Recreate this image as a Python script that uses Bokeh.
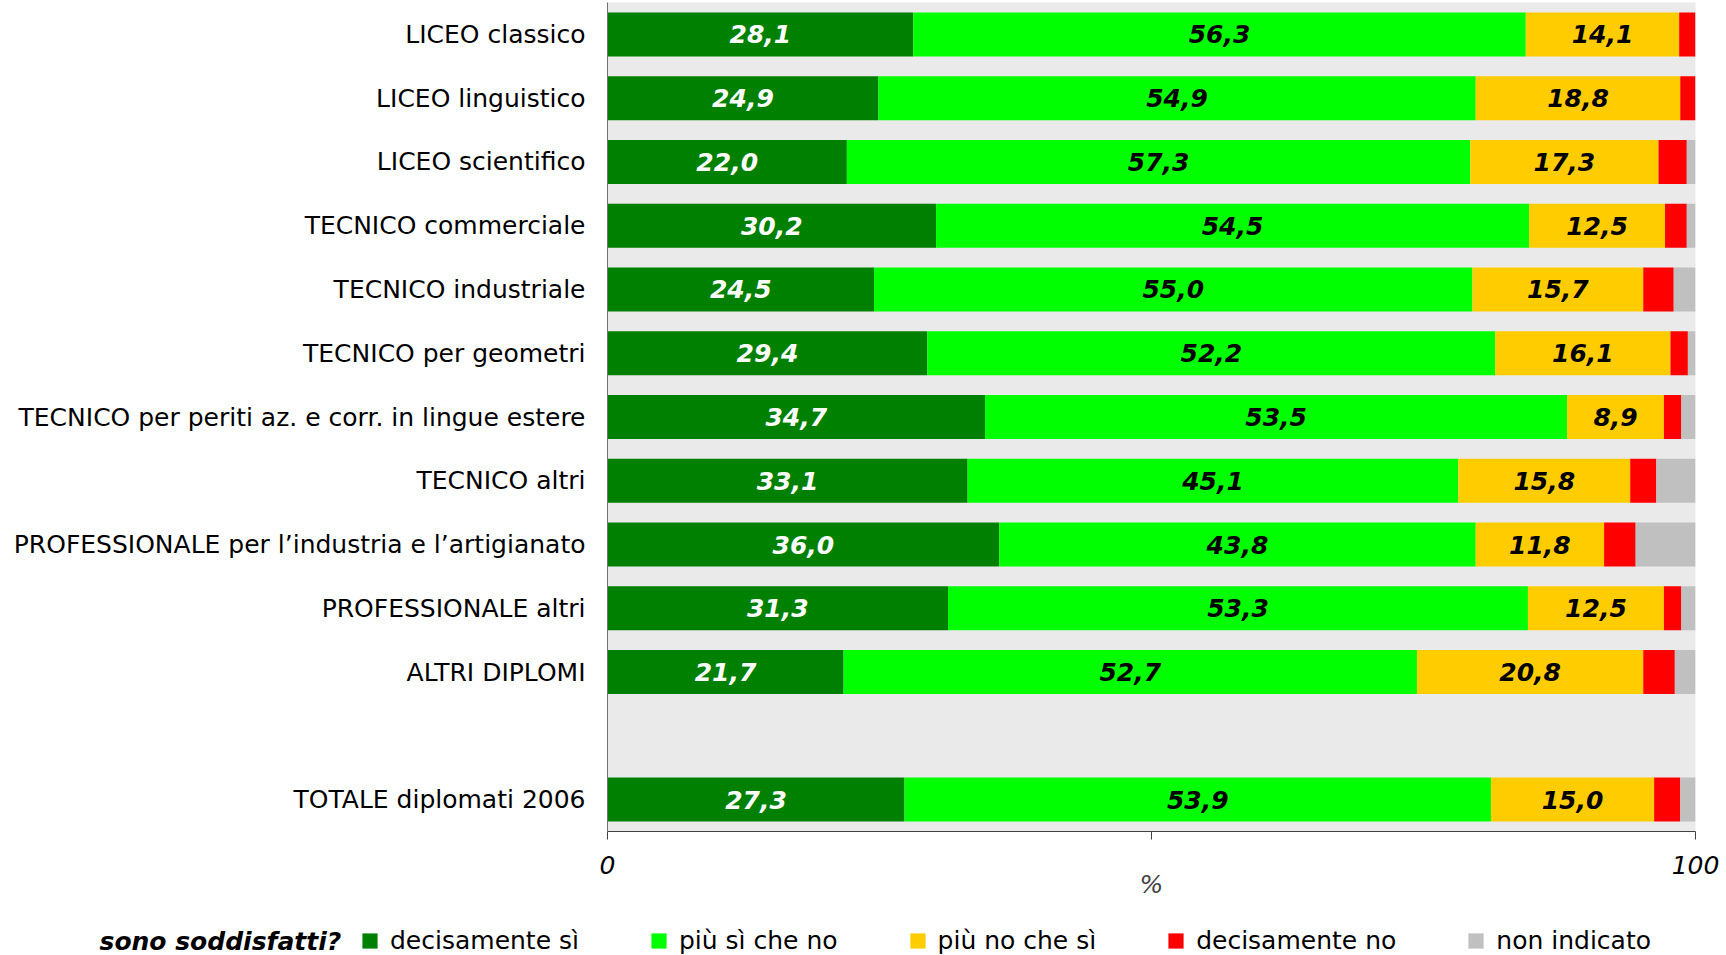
from bokeh.plotting import figure
from bokeh.layouts import column
from bokeh.models import (ColumnDataSource, FactorRange, Range1d, FixedTicker,
                          Legend, LegendItem, Label)
from bokeh.core.properties import value
from bokeh.embed import file_html
from bokeh.resources import INLINE

categories = ["LICEO classico", "LICEO linguistico", "LICEO scientifico",
              "TECNICO commerciale", "TECNICO industriale", "TECNICO per geometri",
              "TECNICO per periti az. e corr. in lingue estere", "TECNICO altri",
              "PROFESSIONALE per l\u2019industria e l\u2019artigianato",
              "PROFESSIONALE altri", "ALTRI DIPLOMI", "TOTALE diplomati 2006"]
spacer = " "

dec_si = [28.1, 24.9, 22.0, 30.2, 24.5, 29.4, 34.7, 33.1, 36.0, 31.3, 21.7, 27.3]
piu_si = [56.3, 54.9, 57.3, 54.5, 55.0, 52.2, 53.5, 45.1, 43.8, 53.3, 52.7, 53.9]
piu_no = [14.1, 18.8, 17.3, 12.5, 15.7, 16.1, 8.9, 15.8, 11.8, 12.5, 20.8, 15.0]
dec_no = [1.5, 1.4, 2.6, 2.0, 2.8, 1.6, 1.6, 2.4, 2.9, 1.6, 2.9, 2.4]
non_ind = [0.0, 0.0, 0.8, 0.8, 2.0, 0.7, 1.3, 3.6, 5.5, 1.3, 1.9, 1.4]

series_names = ["decisamente s\u00ec", "pi\u00f9 s\u00ec che no", "pi\u00f9 no che s\u00ec",
                "decisamente no", "non indicato"]
series_keys = ["dec_si", "piu_si", "piu_no", "dec_no", "non_ind"]
colors = ["#008000", "#00FF00", "#FFCC00", "#FF0000", "#C0C0C0"]
label_colors = ["white", "black", "black"]
legend_title = "sono soddisfatti?"
x_ticks = [0, 50, 100]
x_tick_labels = {0: "0", 50: "", 100: "100"}

FONT = "DejaVu Sans"
FS = "25px"

data = dict(cat=categories, dec_si=dec_si, piu_si=piu_si, piu_no=piu_no,
            dec_no=dec_no, non_ind=non_ind)
source = ColumnDataSource(data)

factors = list(reversed(categories[:-1]))
factors = [categories[-1], spacer] + factors

W = 1726
H_MAIN, H_LEG = 911, 44
p = figure(width=W, height=H_MAIN, y_range=FactorRange(factors=factors),
           x_range=Range1d(0, 100), output_backend="svg", toolbar_location=None,
           min_border_left=607, min_border_right=31, min_border_top=2,
           min_border_bottom=80)
p.background_fill_color = "#EAEAEA"
p.border_fill_color = "white"
p.outline_line_color = None
p.xgrid.visible = False
p.ygrid.visible = False
p.frame_align = False

renderers = p.hbar_stack(series_keys, y="cat", height=0.69, color=colors,
                         line_color=None, source=source)

# value labels (first three series)
cum = [0.0] * len(categories)
for k, key in enumerate(series_keys[:3]):
    vals = data[key]
    xc = [c + v / 2 for c, v in zip(cum, vals)]
    cum = [c + v for c, v in zip(cum, vals)]
    lsrc = ColumnDataSource(dict(x=xc, y=categories,
                                 t=[f"{v:.1f}".replace(".", ",") for v in vals]))
    p.text(x="x", y="y", text="t", source=lsrc, text_align="center",
           text_baseline="middle", text_font=value(FONT), text_font_size=FS,
           text_font_style="bold italic", text_color=label_colors[k])

# y axis
ya = p.yaxis[0]
ya.axis_line_color = "#707070"
ya.major_tick_line_color = None
ya.minor_tick_line_color = None
ya.major_tick_out = 0
ya.major_tick_in = 0
ya.major_label_standoff = 22
ya.major_label_text_font = FONT
ya.major_label_text_font_size = FS
ya.major_label_text_color = "black"

# x axis
xa = p.xaxis[0]
xa.ticker = FixedTicker(ticks=x_ticks)
xa.major_label_overrides = x_tick_labels
xa.axis_line_color = "#404040"
xa.major_tick_line_color = "#404040"
xa.major_tick_out = 8
xa.major_tick_in = 0
xa.minor_tick_line_color = None
xa.major_label_standoff = 16
xa.major_label_text_font = FONT
xa.major_label_text_font_size = FS
xa.major_label_text_font_style = "italic"
xa.major_label_text_color = "black"
xa.axis_label = "%"
xa.axis_label_text_font = FONT
xa.axis_label_text_font_size = FS
xa.axis_label_text_font_style = "italic"
xa.axis_label_standoff = -7

# legend strip: legend proxies draw the same stacked data, kept outside the visible x range
p2 = figure(width=W, height=H_LEG, output_backend="svg", toolbar_location=None,
            min_border=0, x_range=Range1d(-2, -1), y_range=FactorRange(factors=categories))
p2.frame_align = False
p2.axis.visible = False
p2.grid.visible = False
p2.outline_line_color = None
p2.background_fill_color = "white"
proxies = p2.hbar_stack(series_keys, y="cat", height=0.69, color=colors,
                        line_color=None, source=source)
items = [LegendItem(label=n, renderers=[r]) for n, r in zip(series_names, proxies)]
legend = Legend(items=items, orientation="horizontal", location=(360, 0),
                glyph_width=19, glyph_height=19, label_standoff=11, spacing=70,
                padding=0, margin=0, border_line_color=None,
                background_fill_alpha=0, label_text_font=FONT,
                label_text_font_size=FS, label_text_color="black")
p2.add_layout(legend, "center")
p2.add_layout(Label(x=99, y=14, x_units="screen", y_units="screen",
                    text=legend_title, text_font=FONT, text_font_size=FS,
                    text_font_style="bold italic", text_baseline="middle",
                    text_align="left", text_color="black"))

layout = column(p, p2, spacing=0)
open("out.html", "w").write(file_html(layout, INLINE))
